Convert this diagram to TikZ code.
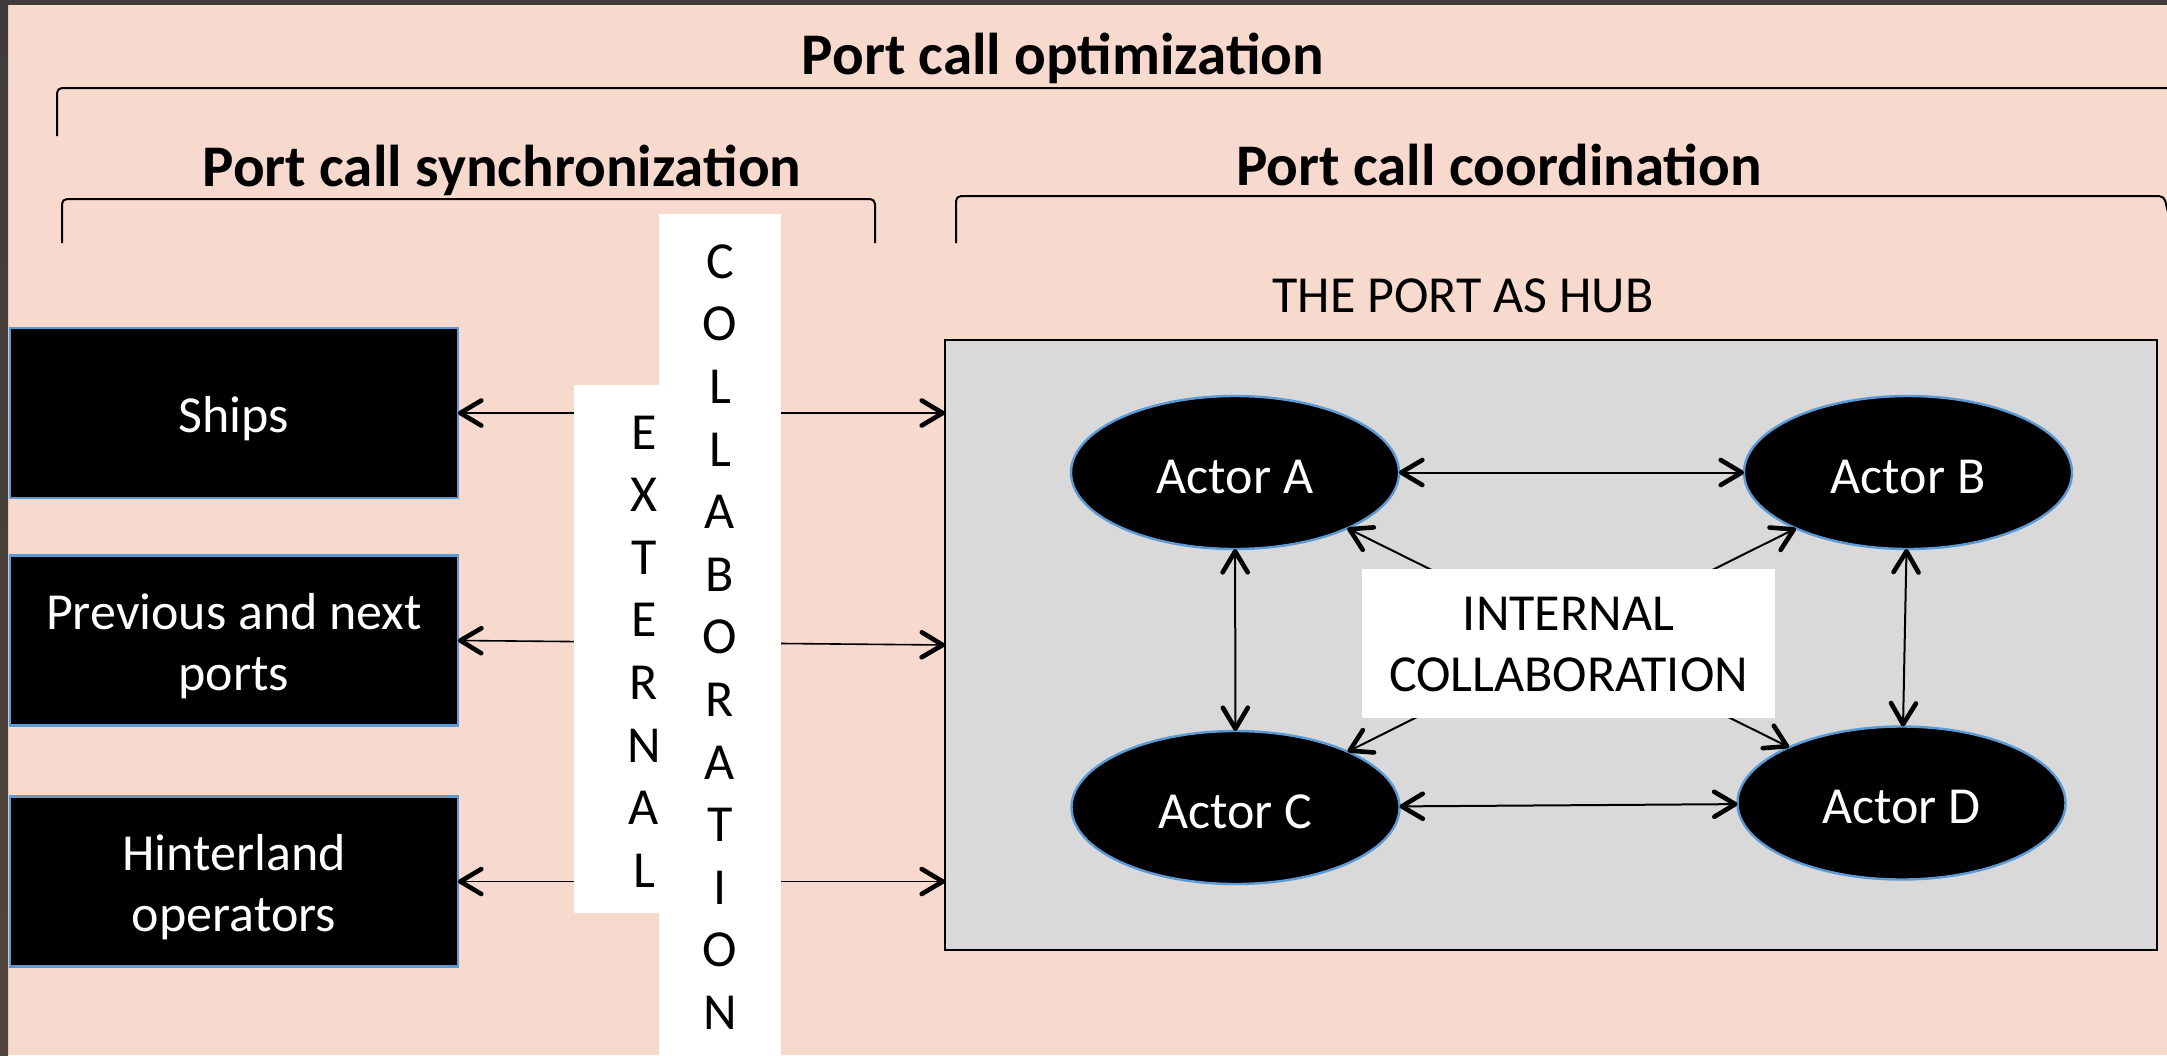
\documentclass[tikz,border=0pt]{standalone}
\usepackage{fontspec}
\setmainfont{Carlito}
\usetikzlibrary{arrows.meta,shapes.geometric}
\definecolor{bgpink}{HTML}{F8D9CD}
\definecolor{hubgray}{HTML}{D9D9D9}
\definecolor{edgeblue}{HTML}{5B9BD5}
\definecolor{framedark}{HTML}{3F3B3A}
\definecolor{framebrown}{HTML}{51443A}
\begin{document}
\begin{tikzpicture}[x=0.5pt,y=-0.5pt,
  every node/.style={inner sep=0pt,outer sep=0pt},
  regtext/.style={font=\fontsize{26}{30.5}\selectfont},
  titletext/.style={font=\fontsize{29.5}{35}\selectfont\bfseries,
    text height=18.6pt,text depth=0pt},
  sidebox/.style={rectangle,draw=edgeblue,line width=1.3pt,fill=black,text=white,
    minimum width=224pt,minimum height=85pt,align=center,regtext},
  actor/.style={ellipse,draw=edgeblue,line width=1.2pt,fill=black,text=white,
    minimum width=164pt,minimum height=76.5pt,regtext,
    text height=20.9pt,text depth=0pt},
  letterbar/.style={rectangle,fill=white,align=center,
    font=\fontsize{26}{31.3}\selectfont,text depth=0pt},
  tipbarb/.tip={Straight Barb[length=10.5pt,width=12.5pt,line width=2.3pt,round]},
  outerlink/.style={line width=0.8pt,tipbarb-tipbarb},
  innerlink/.style={line width=1pt,tipbarb-tipbarb},
  bracket/.style={line width=1pt,rounded corners=2.5pt}]

\useasboundingbox (0,0) rectangle (2167,1055);
\fill[bgpink] (0,0) rectangle (2167,1055);
\fill[framedark] (0,0) rectangle (2167,5);
\shade[top color=framedark,bottom color=framebrown] (0,0) rectangle (8,1055);

% headings and their brackets
\node[titletext] (opt) at (1063,56) {Port call optimization};
\draw[bracket] (57,136) -- (57,88) -- (2180,88);
\node[titletext] (sync) at (502,168) {Port call synchronization};
\draw[bracket] (62,243) -- (62,199) -- (875,199) -- (875,243);
\node[titletext] (coord) at (1499,167) {Port call coordination};
\draw[bracket] (956,243) -- (956,196) -- (2164,196) -- (2168,212);

% the port as hub
\node[regtext,text height=16.4pt,text depth=0pt] (hubtitle) at (1463,296)
  {THE PORT AS HUB};
\node[rectangle,draw=black,line width=1pt,fill=hubgray,
  minimum width=606pt,minimum height=305pt] (hub) at (1551,645) {};

% external parties
\node[sidebox,text height=19.9pt,text depth=0pt] (ships) at (234,413) {Ships};
\node[sidebox,text height=50.3pt,text depth=0pt] (prev) at (234,640.5)
  {Previous and next\\ports};
\node[sidebox,text height=50.3pt,text depth=0pt] (hinter) at (234,881.5)
  {Hinterland\\operators};

\draw[outerlink] (ships.east)  -- (hub.west |- ships.east);
\draw[outerlink] (prev.east)   -- (hub.west);
\draw[outerlink] (hinter.east) -- (hub.west |- hinter.east);

% vertical labels laid over the links
\node[letterbar,text height=238.2pt,minimum width=70pt,minimum height=264pt]
  (ext) at (644,649) {E\\X\\T\\E\\R\\N\\A\\L};
\node[letterbar,text height=392.5pt,minimum width=61pt,minimum height=423pt]
  (collab) at (720,637) {C\\O\\L\\L\\A\\B\\O\\R\\A\\T\\I\\O\\N};

% actors inside the port
\node[actor] (A) at (1235,472.5)   {Actor A};
\node[actor] (B) at (1908,472.5)   {Actor B};
\node[actor] (C) at (1235.5,807.5) {Actor C};
\node[actor] (D) at (1901.5,803)   {Actor D};

\draw[innerlink] (A) -- (B);
\draw[innerlink] (A) -- (C);
\draw[innerlink] (B) -- (D);
\draw[innerlink] (C) -- (D);
\draw[innerlink] (A) -- (D);
\draw[innerlink] (B) -- (C);

\node[rectangle,fill=white,align=center,regtext,text height=48.4pt,text depth=0pt,
  minimum width=206.5pt,minimum height=74.5pt] (internal) at (1568.5,643.5)
  {INTERNAL\\COLLABORATION};
\end{tikzpicture}
\end{document}
